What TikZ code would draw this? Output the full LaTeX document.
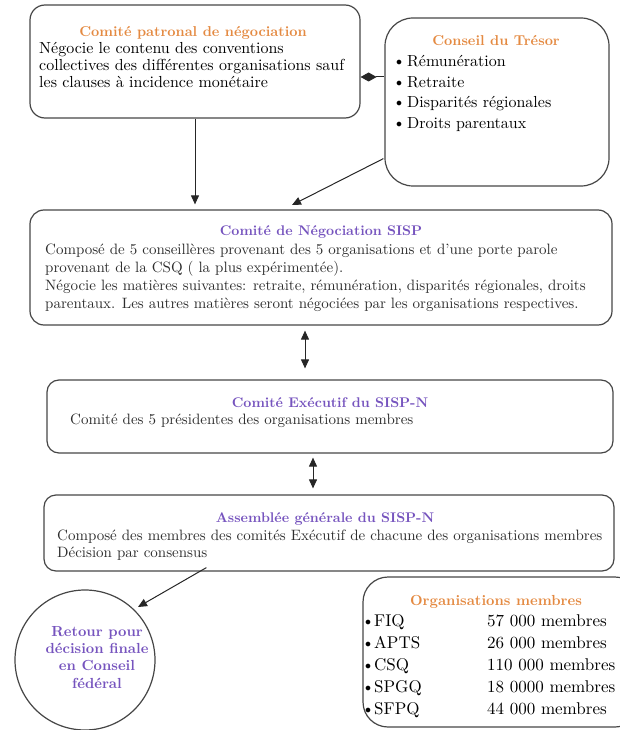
\documentclass[tikz,border=0pt]{standalone}
\usepackage{fontspec}
\setmainfont{lmroman10-regular}[Extension=.otf, BoldFont=lmroman10-bold, ItalicFont=lmroman10-italic]
\usetikzlibrary{arrows.meta,calc}
\definecolor{orangeT}{RGB}{228,138,66}
\definecolor{purpleT}{RGB}{118,84,190}
\definecolor{edgeC}{RGB}{70,70,70}
\definecolor{lightT}{RGB}{45,45,45}
\tikzset{
  box/.style={draw=edgeC, line width=1.2pt, rounded corners=#1, inner sep=0pt},
  box/.default=14pt,
  ttlO/.style={font=\fontsize{14.3}{16}\selectfont\bfseries, text=orangeT, inner sep=0pt, anchor=base},
  ttlP/.style={font=\fontsize{14}{15}\selectfont\bfseries, text=purpleT, inner sep=0pt, anchor=base},
  dk/.style={font=\fontsize{16}{17}\selectfont, text=black, inner sep=0pt, anchor=base west},
  lt/.style={font=\fontsize{15}{17}\selectfont, text=lightT, inner sep=0pt, anchor=base west},
  bul/.style={font=\fontsize{13}{13}\selectfont, text=black, inner sep=0pt, anchor=base west},
  conn/.style={draw=black!85, line width=1pt, -{Triangle[length=9pt,width=8pt]}},
  dconn/.style={draw=black!85, line width=1pt, {Triangle[length=9pt,width=8pt]}-{Triangle[length=9pt,width=8pt]}},
}
\begin{document}
\begin{tikzpicture}[x=1pt,y=-1pt]
\useasboundingbox (0,0) rectangle (619,730);
% boxes
\node[box=15pt, minimum width=330pt, minimum height=113pt] (b1) at (195,61.5) {};
\node[box=28pt, minimum width=224pt, minimum height=168pt] (b2) at (497,102) {};
\node[box=14pt, minimum width=582pt, minimum height=115pt] (b3) at (321,267.5) {};
\node[box=12pt, minimum width=566pt, minimum height=73pt] (b4) at (330,416.5) {};
\node[box=12pt, minimum width=570pt, minimum height=76pt] (b5) at (329,533) {};
\node[draw=edgeC, line width=1.2pt, circle, minimum size=140pt, inner sep=0pt] (c) at (85,660) {};
\node[box=25pt, minimum width=277pt, minimum height=150pt] (b6) at (501.5,652) {};
% box 1
\node[ttlO] (t1) at (193,37) {Comité patronal de négociation};
\node[dk] (b1a) at (39,54) {Négocie le contenu des conventions};
\node[dk] (b1b) at (39,71) {collectives des différentes organisations sauf};
\node[dk] (b1c) at (39,88) {les clauses à incidence monétaire};
% box 2
\node[ttlO] (t2) at (496,46) {Conseil du Trésor};
\foreach \y/\t [count=\i] in {67/Rémunération,87.5/Retraite,108/Disparités régionales,128.5/Droits parentaux}{
  \node[bul] (p2\i) at (396,\y-1) {$\bullet$};
  \node[dk] (b2\i) at (407,\y) {\t};
}
% box 3
\node[ttlP] (t3) at (321,235) {Comité de Négociation SISP};
\node[lt] (b3a) at (45,254) {Composé de 5 conseillères provenant des 5 organisations et d'une porte parole};
\node[lt] (b3b) at (45,272) {provenant de la CSQ ( la plus expérimentée).};
\node[lt] (b3c) at (45,290) {Négocie les matières suivantes: retraite, rémunération, disparités régionales, droits};
\node[lt] (b3d) at (45,308) {parentaux. Les autres matières seront négociées par les organisations respectives.};
% box 4
\node[ttlP] (t4) at (330,407) {Comité Exécutif du SISP-N};
\node[lt] (b4a) at (70,424) {Comité des 5 présidentes des organisations membres};
% box 5
\node[ttlP] (t5) at (325,522) {Assemblée générale du SISP-N};
\node[lt] (b5a) at (57,540) {Composé des membres des comités Exécutif de chacune des organisations membres};
\node[lt] (b5b) at (57,557) {Décision par consensus};
% circle text
\node[ttlP, font=\fontsize{14.6}{17.3}\selectfont\bfseries, align=center, anchor=north] (ct) at (97,626) {Retour pour\\décision finale\\en Conseil\\fédéral};
% box 6
\node[ttlO, font=\fontsize{14.6}{17}\selectfont\bfseries] (t6) at (496,605) {Organisations membres};
\foreach \y/\n/\m [count=\i] in {626/FIQ/57 000,648/APTS/26 000,670/CSQ/110 000,692/SPGQ/18 0000,714/SFPQ/44 000}{
  \node[bul] (q\i) at (365,\y-1) {$\bullet$};
  \node[dk, font=\fontsize{17}{18}\selectfont] (o\i) at (374,\y) {\n};
  \node[dk, font=\fontsize{17}{18}\selectfont] (m\i) at (487,\y) {\m{} membres};
}
% connectors
\coordinate (dy) at (0,77);
\draw[line width=1pt, draw=black!85, {Diamond[length=16pt,width=9pt]}-] (b1.east |- dy) -- (b2.west |- dy);
\draw[conn, shorten >=5pt] (b1.south) -- (b1.south |- b3.north);
\coordinate (a2s) at ($(b2.south west)+(-1,-28)$);
\coordinate (a2e) at (292,205);
\draw[conn] (a2s) -- (a2e);
\coordinate (d1) at (305,0);
\draw[dconn, shorten <=5pt, shorten >=11pt] (b3.south -| d1) -- (b4.north -| d1);
\coordinate (d2) at (313,0);
\draw[dconn, shorten <=4pt, shorten >=6pt] (b4.south -| d2) -- (b5.north -| d2);
\coordinate (a5s) at ($(b5.south west)+(163,-4)$);
\coordinate (a5e) at (138,607);
\draw[conn] (a5s) -- (a5e);
\end{tikzpicture}
\end{document}
